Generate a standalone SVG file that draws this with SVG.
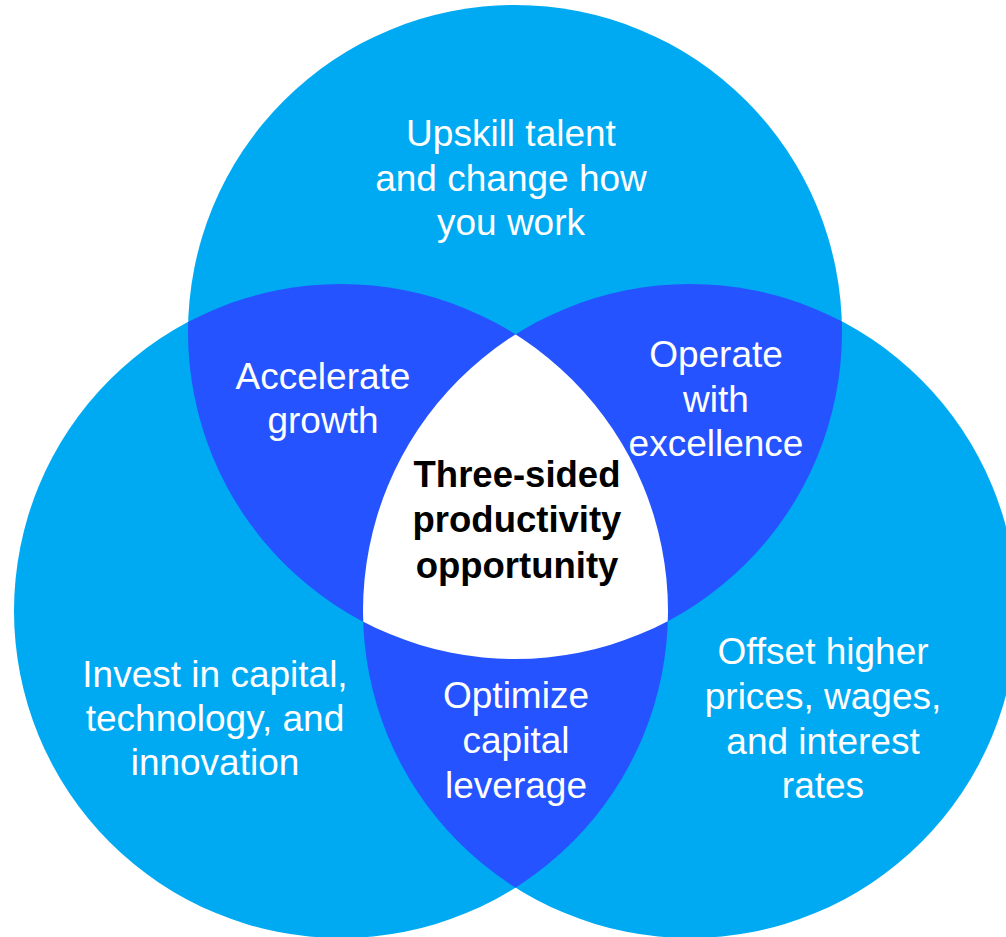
<svg xmlns="http://www.w3.org/2000/svg" width="1006" height="937" viewBox="0 0 1006 937">
  <style>
    .base { fill: #00AAF2; }
    .pair { fill: #2553FF; }
    .core { fill: #FFFFFF; }
    .lbl { font-family: "Liberation Sans", Arial, sans-serif; font-size: 37px; fill: #FFFFFF; text-anchor: middle; }
    .hub { font-family: "Liberation Sans", Arial, sans-serif; font-size: 36.5px; font-weight: bold; fill: #000000; text-anchor: middle; }
  </style>
  <defs>
    <circle id="cTop" cx="515" cy="332" r="327"/>
    <circle id="cLeft" cx="341" cy="611" r="327"/>
    <circle id="cRight" cx="690" cy="611" r="327"/>
    <clipPath id="clipTop"><use href="#cTop"/></clipPath>
    <clipPath id="clipLeft"><use href="#cLeft"/></clipPath>
    <clipPath id="clipRight"><use href="#cRight"/></clipPath>
  </defs>

  <rect width="1006" height="937" fill="#FFFFFF"/>

  <!-- three sets -->
  <g id="set-top"><use href="#cTop" class="base"/></g>
  <g id="set-left"><use href="#cLeft" class="base"/></g>
  <g id="set-right"><use href="#cRight" class="base"/></g>

  <!-- pairwise overlaps -->
  <g id="overlap-top-left"><use href="#cLeft" class="pair" clip-path="url(#clipTop)"/></g>
  <g id="overlap-top-right"><use href="#cRight" class="pair" clip-path="url(#clipTop)"/></g>
  <g id="overlap-left-right"><use href="#cRight" class="pair" clip-path="url(#clipLeft)"/></g>

  <!-- triple overlap -->
  <g id="overlap-all" clip-path="url(#clipTop)">
    <use href="#cRight" class="core" clip-path="url(#clipLeft)"/>
  </g>

  <!-- labels -->
  <g id="label-top">
    <text class="lbl" x="511" y="146">Upskill talent</text>
    <text class="lbl" x="511" y="191">and change how</text>
    <text class="lbl" x="511" y="235">you work</text>
  </g>
  <g id="label-top-left">
    <text class="lbl" x="323" y="389">Accelerate</text>
    <text class="lbl" x="323" y="433">growth</text>
  </g>
  <g id="label-top-right">
    <text class="lbl" x="716" y="367">Operate</text>
    <text class="lbl" x="716" y="412">with</text>
    <text class="lbl" x="716" y="456">excellence</text>
  </g>
  <g id="label-center">
    <text class="hub" x="517" y="487">Three-sided</text>
    <text class="hub" x="517" y="532">productivity</text>
    <text class="hub" x="517" y="578">opportunity</text>
  </g>
  <g id="label-left">
    <text class="lbl" x="215" y="687">Invest in capital,</text>
    <text class="lbl" x="215" y="731">technology, and</text>
    <text class="lbl" x="215" y="775">innovation</text>
  </g>
  <g id="label-bottom">
    <text class="lbl" x="516" y="708">Optimize</text>
    <text class="lbl" x="516" y="753">capital</text>
    <text class="lbl" x="516" y="798">leverage</text>
  </g>
  <g id="label-right">
    <text class="lbl" x="823" y="664">Offset higher</text>
    <text class="lbl" x="823" y="709">prices, wages,</text>
    <text class="lbl" x="823" y="754">and interest</text>
    <text class="lbl" x="823" y="798">rates</text>
  </g>
</svg>
